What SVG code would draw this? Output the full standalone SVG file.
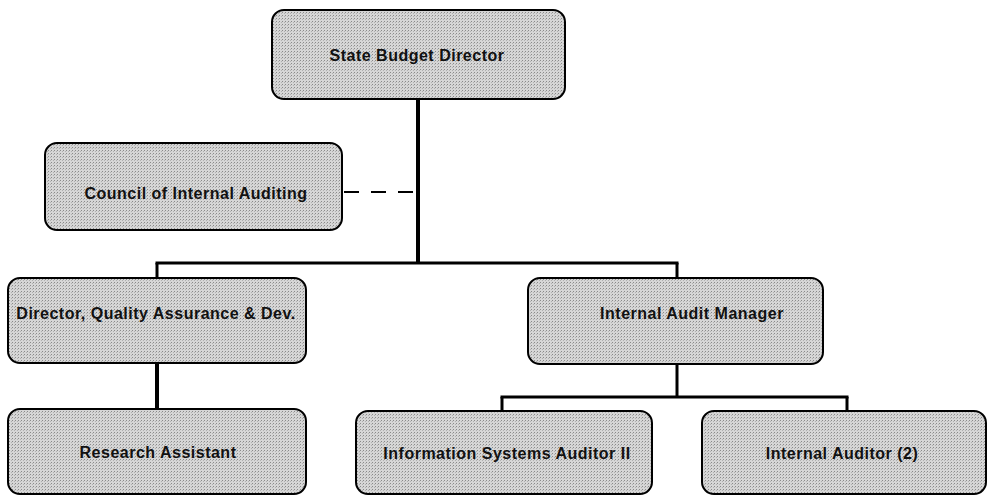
<svg xmlns="http://www.w3.org/2000/svg" width="987" height="496" viewBox="0 0 987 496">
<defs>
<pattern id="dither" width="3" height="3" patternUnits="userSpaceOnUse">
<rect width="3" height="3" fill="#d6d6d6"/>
<rect x="0" y="0" width="1" height="1" fill="#8a8a8a"/>
<rect x="2" y="1" width="1" height="1" fill="#b0b0b0"/>
</pattern>
</defs>
<style>
.box{fill:url(#dither);stroke:#000;stroke-width:2}
.lbl{font-family:"Liberation Sans",Arial,sans-serif;font-size:16px;font-weight:bold;fill:#111;text-anchor:middle;dominant-baseline:central;letter-spacing:0.5px}
.ln{stroke:#000;stroke-width:3;fill:none}
.thick{stroke-width:4}
.dash{stroke:#000;stroke-width:2;stroke-dasharray:15 12;fill:none}
</style>
<rect width="987" height="496" fill="#fff"/>
<g id="connectors">
<line class="ln thick" x1="418" y1="99" x2="418" y2="264"/>
<line class="ln" x1="155.5" y1="263" x2="678.5" y2="263"/>
<line class="ln" x1="157" y1="263" x2="157" y2="278"/>
<line class="ln" x1="677" y1="263" x2="677" y2="278"/>
<line class="dash" x1="344" y1="192" x2="418" y2="192"/>
<line class="ln thick" x1="157" y1="363" x2="157" y2="409"/>
<line class="ln" x1="677" y1="364" x2="677" y2="398"/>
<line class="ln" x1="500.5" y1="397" x2="848.5" y2="397"/>
<line class="ln" x1="502" y1="397" x2="502" y2="411"/>
<line class="ln" x1="847" y1="397" x2="847" y2="411"/>
</g>
<g id="state-budget-director">
<rect class="box" x="272" y="10" width="293" height="89" rx="12"/>
<text class="lbl" x="417" y="55">State Budget Director</text>
</g>
<g id="council-internal-auditing">
<rect class="box" x="45" y="143" width="297" height="87" rx="12"/>
<text class="lbl" x="196" y="193">Council of Internal Auditing</text>
</g>
<g id="director-qa">
<rect class="box" x="8" y="278" width="298" height="85" rx="12"/>
<text class="lbl" x="156" y="313">Director, Quality Assurance &amp; Dev.</text>
</g>
<g id="internal-audit-manager">
<rect class="box" x="528" y="278" width="295" height="86" rx="12"/>
<text class="lbl" x="692" y="313">Internal Audit Manager</text>
</g>
<g id="research-assistant">
<rect class="box" x="8" y="409" width="298" height="85" rx="12"/>
<text class="lbl" x="158" y="452">Research Assistant</text>
</g>
<g id="is-auditor">
<rect class="box" x="356" y="411" width="296" height="83" rx="12"/>
<text class="lbl" x="507" y="453">Information Systems Auditor II</text>
</g>
<g id="internal-auditor">
<rect class="box" x="702" y="411" width="284" height="83" rx="12"/>
<text class="lbl" x="842" y="453">Internal Auditor (2)</text>
</g>
</svg>
